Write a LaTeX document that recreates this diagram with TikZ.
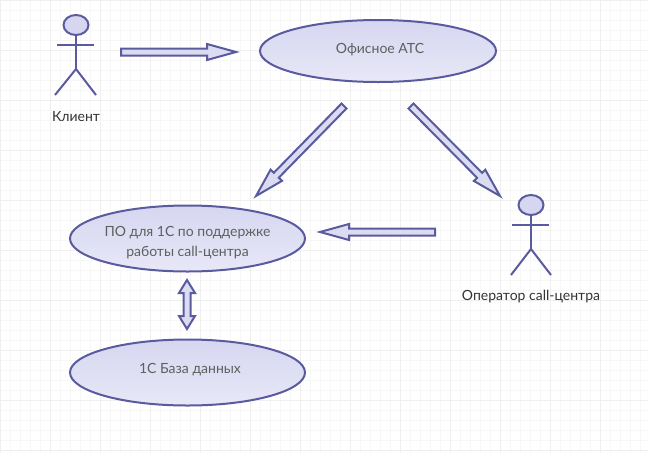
\documentclass[tikz,border=0pt]{standalone}
\usepackage{fontspec}
\setmainfont{Lato}
\usetikzlibrary{calc,shapes.geometric}
\definecolor{umlline}{HTML}{5A5A9E}
\definecolor{umltop}{HTML}{D6D6F0}
\definecolor{umlbot}{HTML}{E8E8F8}
\definecolor{umltext}{HTML}{5F5F5F}
\definecolor{gridfine}{HTML}{F7F7F7}
\definecolor{gridbold}{HTML}{EFEFEF}
\tikzset{
  usecase/.style={draw=umlline,line width=2pt,ellipse,top color=umltop,bottom color=umlbot,
    minimum width=235pt,minimum height=66pt,inner sep=0pt,text=umltext,font=\fontsize{14}{19.5}\selectfont},
  actorlabel/.style={text=black!80,font=\fontsize{14}{16}\selectfont},
  actorhead/.style={draw=umlline,line width=2pt,fill=umltop,ellipse,minimum width=25pt,minimum height=20pt,inner sep=0pt},
  actorline/.style={draw=umlline,line width=2pt},
  blockarrow/.style={draw=umlline,line width=2pt,fill=umltop!70!umlbot,line join=miter,to path={
    let \p1=(\tikztostart),\p2=(\tikztotarget),\n1={veclen(\x2-\x1,\y2-\y1)},\n2={atan2(\y2-\y1,\x2-\x1)} in
    [rotate around={\n2:(\tikztostart)}]
    (\x1,\y1-3.5pt) -- (\x1+\n1-29pt,\y1-3.5pt) -- (\x1+\n1-29pt,\y1-8pt) -- (\x1+\n1,\y1)
    -- (\x1+\n1-29pt,\y1+8pt) -- (\x1+\n1-29pt,\y1+3.5pt) -- (\x1,\y1+3.5pt) -- cycle}},
  bothways/.style={draw=umlline,line width=2pt,fill=umltop!70!umlbot,to path={
    let \p1=(\tikztostart),\p2=(\tikztotarget) in
    (\x1,\y1) -- (\x1+8pt,\y1-13pt) -- (\x1+3.5pt,\y1-13pt) -- (\x2+3.5pt,\y2+13pt) -- (\x2+8pt,\y2+13pt)
    -- (\x2,\y2) -- (\x2-8pt,\y2+13pt) -- (\x2-3.5pt,\y2+13pt) -- (\x1-3.5pt,\y1-13pt) -- (\x1-8pt,\y1-13pt) -- cycle}}
}
\begin{document}
\begin{tikzpicture}[x=1pt,y=-1pt]
  \useasboundingbox (0,0) rectangle (648,453);
  % background grid
  \draw[gridfine,line width=0.6pt,xstep=10pt,ystep=10pt] (0,0) grid (648,453);
  \draw[gridbold,line width=0.6pt,xstep=50pt,ystep=50pt] (0,0) grid (648,453);

  \node [usecase,minimum width=236pt,minimum height=62pt] (ats) at (378,51) {\raisebox{-2pt}[0pt][0pt]{\hspace{4pt}Офисное АТС}};
  \node [usecase] (po) at (187.5,238.5) {\raisebox{-7.5pt}[0pt][0pt]{\begin{tabular}{@{}c@{}}ПО для 1С по поддержке\\работы call-центра\end{tabular}}};
  \node [usecase] (base) at (187.5,372.5) {\raisebox{-0.5pt}[0pt][0pt]{\hspace{5pt}1С База данных}};

  % actors
  \node [actorhead] (head1) at (76,25) {};
  \coordinate (hip1) at (76,69);
  \coordinate (armL1) at (57,45);
  \coordinate (armR1) at (94,45);
  \coordinate (footL1) at (55,95);
  \coordinate (footR1) at (96,95);
  \draw[actorline] (head1) -- (hip1);
  \draw[actorline] (armL1) -- (armR1);
  \draw[actorline] (footL1) -- (hip1) -- (footR1);
  \node [actorlabel] (client) at (76,117) {Клиент};

  \node [actorhead] (head2) at (531,205) {};
  \coordinate (hip2) at (531,249);
  \coordinate (armL2) at (512,225);
  \coordinate (armR2) at (549,225);
  \coordinate (footL2) at (511,275);
  \coordinate (footR2) at (551,275);
  \draw[actorline] (head2) -- (hip2);
  \draw[actorline] (armL2) -- (armR2);
  \draw[actorline] (footL2) -- (hip2) -- (footR2);
  \node [actorlabel] (operator) at (531,297) {Оператор call-центра};

  % block arrows
  \coordinate (a1) at (121,52);
  \coordinate (b1) at (236,52);
  \coordinate (a2) at (344,106);
  \coordinate (b2) at (256,196);
  \coordinate (a3) at (411,106);
  \coordinate (b3) at (500,196);
  \coordinate (a4) at (435,232);
  \coordinate (b4) at (320,232);
  \coordinate (a5) at (187,280);
  \coordinate (b5) at (187,329);
  \draw[blockarrow] (a1) to (b1);
  \draw[blockarrow] (a2) to (b2);
  \draw[blockarrow] (a3) to (b3);
  \draw[blockarrow] (a4) to (b4);
  \draw[bothways] (a5) to (b5);
\end{tikzpicture}
\end{document}
